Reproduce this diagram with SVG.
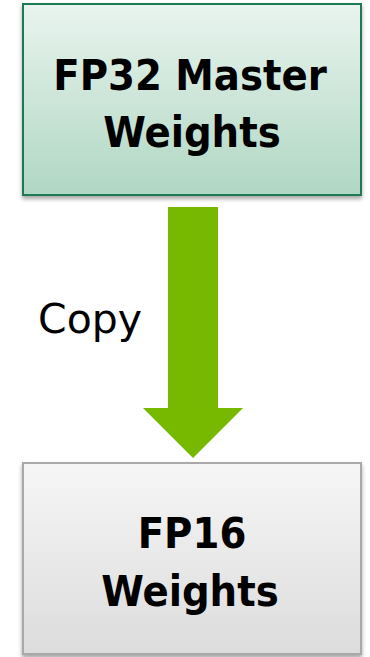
<svg xmlns="http://www.w3.org/2000/svg" width="370" height="657" viewBox="0 0 370 657">
  <defs>
    <linearGradient id="gradMaster" x1="0" y1="0" x2="0" y2="1">
      <stop offset="0" stop-color="#e9f4ee"/>
      <stop offset="1" stop-color="#b0d7c3"/>
    </linearGradient>
    <linearGradient id="gradHalf" x1="0" y1="0" x2="0" y2="1">
      <stop offset="0" stop-color="#f6f6f6"/>
      <stop offset="1" stop-color="#dcdcdc"/>
    </linearGradient>
    <filter id="shadow" x="-10%" y="-10%" width="120%" height="120%">
      <feGaussianBlur in="SourceAlpha" stdDeviation="2"/>
      <feOffset dx="0" dy="3" result="b"/>
      <feComponentTransfer><feFuncA type="linear" slope="0.35"/></feComponentTransfer>
      <feMerge><feMergeNode/><feMergeNode in="SourceGraphic"/></feMerge>
    </filter>
  </defs>
  <style>
    .label { font-family: "DejaVu Sans Condensed", "DejaVu Sans", Verdana, sans-serif; font-stretch: condensed; font-weight: bold; font-size: 43px; fill: #000; text-anchor: middle; }
    .copy { font-family: "DejaVu Sans", Verdana, sans-serif; font-size: 41px; fill: #000; }
  </style>

  <g id="fp32-master">
    <rect x="23" y="4" width="338" height="191" fill="url(#gradMaster)" stroke="#1a7a55" stroke-width="2" filter="url(#shadow)"/>
    <text class="label" x="190" y="90">FP32 Master</text>
    <text class="label" x="192" y="147">Weights</text>
  </g>

  <g id="fp16-weights">
    <rect x="23" y="463" width="338" height="191" fill="url(#gradHalf)" stroke="#a9a9a9" stroke-width="2" filter="url(#shadow)"/>
    <text class="label" x="192" y="548">FP16</text>
    <text class="label" x="190" y="606">Weights</text>
  </g>

  <g id="connectors">
    <polygon points="168,207 218,207 218,408 243,408 193,458 143,408 168,408" fill="#76b900"/>
    <text class="copy" x="38" y="333">Copy</text>
  </g>
</svg>
